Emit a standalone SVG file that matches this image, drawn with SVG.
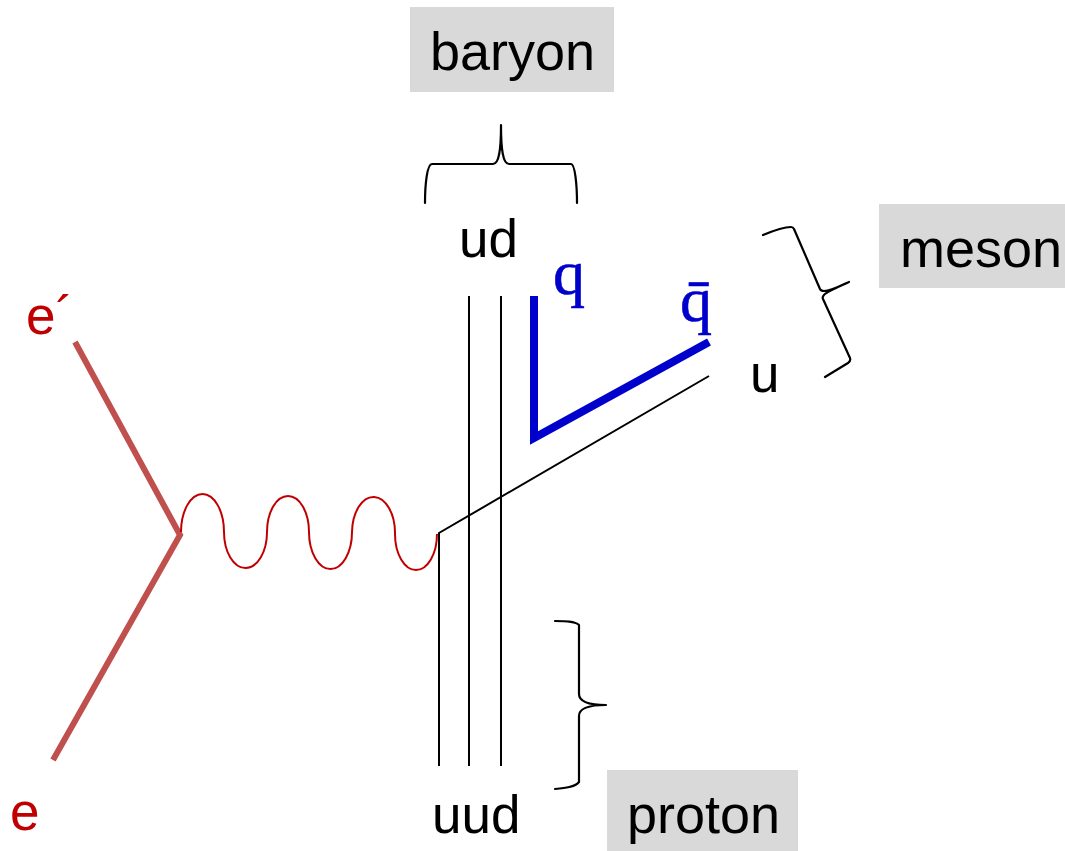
<svg xmlns="http://www.w3.org/2000/svg" width="1065" height="851" viewBox="0 0 1065 851">
<style>
text{font-family:"Liberation Sans",Arial,sans-serif;font-size:53px;fill:#000}
.tag{font-size:54px}
.red{fill:#c00000}
.q{font-family:"Liberation Serif","Times New Roman",serif;font-size:64px;fill:#0000cc;stroke:#0000cc;stroke-width:.6}
.box{fill:#d9d9d9}
.thin{fill:none;stroke:#000;stroke-width:2}
.brace{fill:none;stroke:#000;stroke-width:2.2;stroke-linecap:round;stroke-linejoin:round}
.elec{fill:none;stroke:#c0504d;stroke-width:6}
.quark{fill:none;stroke:#0000cc;stroke-width:8;stroke-linejoin:miter}
.wave{fill:none;stroke:#c00000;stroke-width:2}
</style>
<rect width="1065" height="851" fill="#fff"/>
<g id="connectors">
<path class="elec" d="M75 342L180 535L53 760"/>
<path class="wave" d="M181 532A21.500 38 0 0 1 224 532A21.500 36 0 0 0 267 532A21 36 0 0 1 309 532A21.500 37 0 0 0 352 532A21.500 36 0 0 1 395 534A21 36 0 0 0 437 534"/>
<path class="thin" d="M709 376L439 533V766"/>
<path class="thin" d="M469 296V766"/>
<path class="thin" d="M501 296V766"/>
<path class="quark" d="M534 296V438L709 342"/>
</g>
<g id="brace-baryon"><path class="brace" d="M425 203C425 185 427 164 432 164H493C499 164 501 150 501 125C501 150 503 164 509 164H571C575 164 577 185 577 203"/></g>
<g id="brace-meson"><path class="brace" d="M763 235C775 230 785 227 791 227Q793 227 794 229L820 289Q821 291 824 291C832 291 840 286 849 282C840 286 826 292 824 295Q822 297 823 299L850 358Q851 361 848 363L825 377"/></g>
<g id="brace-proton"><path class="brace" d="M555 621C565 621 575 621 579 625V694C579 702 590 705 606 705C590 705 579 708 579 716V782C575 787 565 788 555 789"/></g>
<g id="label-e-prime"><text class="red" x="26" y="334">e´</text></g>
<g id="label-e"><text class="red" x="10" y="830">e</text></g>
<g id="label-ud"><text x="459" y="257">ud</text></g>
<g id="label-u"><text x="750" y="392">u</text></g>
<g id="label-uud"><text x="432" y="833">uud</text></g>
<g id="label-q"><text class="q" x="553" y="294">q</text></g>
<g id="label-qbar"><text class="q" x="680" y="321">q̄</text></g>
<g id="baryon"><rect class="box" x="410" y="7" width="204" height="85"/><text class="tag" x="430" y="70">baryon</text></g>
<g id="meson"><rect class="box" x="879" y="204" width="186" height="84"/><text class="tag" x="900" y="267">meson</text></g>
<g id="proton"><rect class="box" x="607" y="770" width="191" height="81"/><text class="tag" x="627" y="833">proton</text></g>
</svg>
